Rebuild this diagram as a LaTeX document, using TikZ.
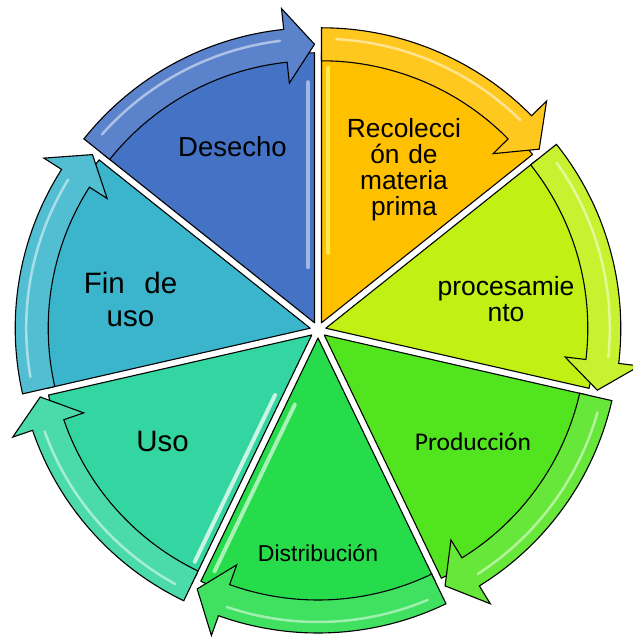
\documentclass[tikz,border=0pt]{standalone}
\usepackage{fontspec}
\setmainfont{Liberation Sans}
\newfontfamily\calfont{Carlito}
\usetikzlibrary{calc}
\definecolor{cRec}{HTML}{FFC000}
\definecolor{cPro}{HTML}{C0F014}
\definecolor{cPrd}{HTML}{52E41E}
\definecolor{cDis}{HTML}{26DC4B}
\definecolor{cUso}{HTML}{33D6A0}
\definecolor{cFin}{HTML}{3AB5CC}
\definecolor{cDes}{HTML}{4472C4}
\tikzset{
  wedgebox/.style={draw=black, line width=1.1pt, line join=round},
  bandarrow/.style={draw=black, line width=1.1pt, line join=miter},
  gloss/.style={white, opacity=0.5, line width=2.5pt, line cap=round},
  edgegloss/.style={white, opacity=0.75, line width=4pt, line cap=round},
  lbl/.style={inner sep=0pt, text=black, align=center},
}
\begin{document}
\begin{tikzpicture}[x=1pt,y=-1pt]
\useasboundingbox (0,0) rectangle (632,637);
\coordinate (C) at (318,330);
\foreach \k/\col in {0/cRec,1/cPro,2/cPrd,3/cDis,4/cUso,5/cFin,6/cDes}{
  \pgfmathsetmacro\bs{-90+\k*360/7}
  \pgfmathsetmacro\be{\bs+360/7}
  \pgfmathsetmacro\bm{\bs+180/7}
  \pgfmathsetmacro\bh{\be-6}
  \begin{scope}[shift={(C)}, shift={(\bm:8)}]
    \filldraw[fill=\col, wedgebox] (0,0) -- (\bs:270) arc[start angle=\bs, end angle=\be, radius=270] -- cycle;
    \filldraw[fill=\col!88!white, bandarrow] (\bs:262) -- (\bs:295)
      arc[start angle=\bs, end angle=\bh, radius=295] -- (\bh:316) -- (\be:278.5)
      -- (\bh:241) -- (\bh:262) arc[start angle=\bh, end angle=\bs, radius=262] -- cycle;
    \draw[gloss] (\bs+3:284) arc[start angle=\bs+3, end angle=\bh-1, radius=284];
  \end{scope}
}
% edge highlights on some wedges
\coordinate (PDes) at ($(C)+(115.714:8)$);
\coordinate (PRec) at ($(C)+(-64.286:8)$);
\coordinate (PUso) at ($(C)+(141.429:8)$);
\coordinate (PDis) at ($(C)+(90:8)$);
\draw[edgegloss, opacity=0.5] ($(PDes)+(-90:70)+(180:7)$) -- ($(PDes)+(-90:255)+(180:7)$);
\draw[edgegloss, yellow!60!white] ($(PRec)+(-90:70)+(0:7)$) -- ($(PRec)+(-90:255)+(0:7)$);
\draw[edgegloss] ($(PUso)+(115.714:70)+(205.714:7)$) -- ($(PUso)+(115.714:255)+(205.714:7)$);
\draw[edgegloss, opacity=0.6] ($(PDis)+(115.714:70)+(25.714:8)$) -- ($(PDis)+(115.714:255)+(25.714:8)$);
% labels
\node[lbl, anchor=base, font=\fontsize{27.5}{30}\selectfont] (tDes) at (232.5,156.7) {Desecho};
\node[lbl, anchor=base, text width=130pt, font=\fontsize{26.3}{26}\selectfont] (tRec) at (404,137.3) {Recolecci\\ón de\\materia\\prima};
\node[lbl, anchor=base, text width=150pt, font=\fontsize{26.5}{26.7}\selectfont] (tPro) at (506,295) {procesamie\\nto};
\node[lbl, anchor=base, font=\calfont\fontsize{25.5}{28}\selectfont] (tPrd) at (473,450) {Producción};
\node[lbl, anchor=base, font=\fontsize{23}{26}\selectfont] (tDis) at (318,561) {Distribución};
\node[lbl, anchor=base, font=\fontsize{29.5}{32}\selectfont] (tUso) at (162.5,451.7) {Uso};
\node[lbl, anchor=base, text width=120pt, font=\fontsize{29.5}{33.4}\selectfont] (tFin) at (130.5,293.3) {Fin\ \ de\\uso};
\end{tikzpicture}
\end{document}
